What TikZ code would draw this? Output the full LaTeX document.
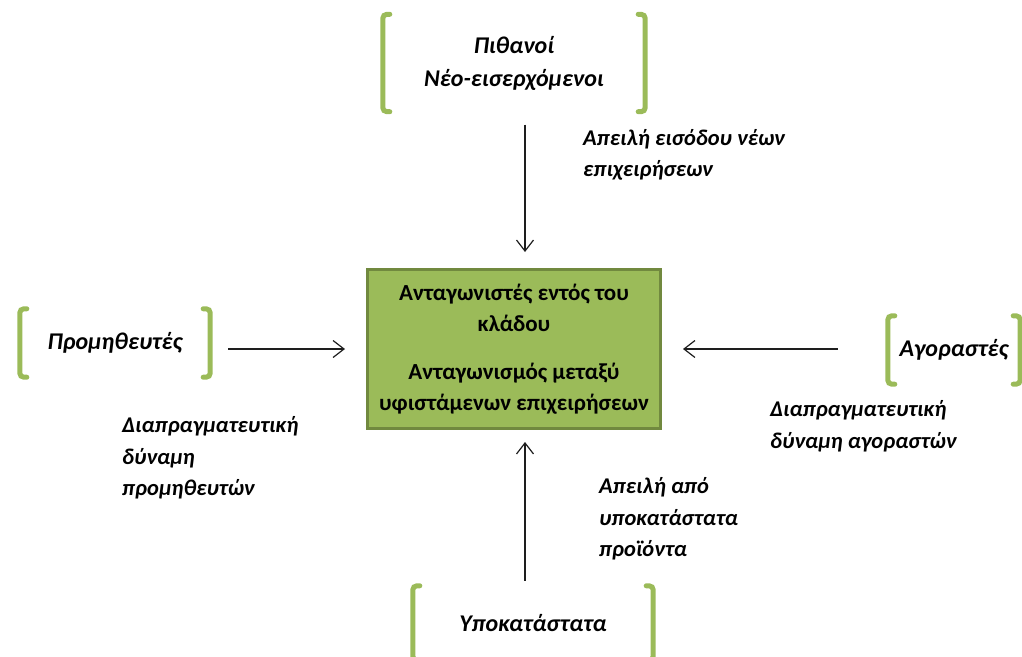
\documentclass[tikz,border=0pt]{standalone}
\usepackage{fontspec}
\setmainfont{Carlito}
\usetikzlibrary{positioning,arrows.meta}
\definecolor{leafgreen}{HTML}{9BBB59}
\definecolor{leafdark}{HTML}{71893F}
\definecolor{inkline}{HTML}{1E1E1E}

\tikzset{
  forcebox/.style={inner sep=0pt, align=center, font=\fontsize{24}{33}\selectfont\bfseries\itshape},
  corebox/.style={draw=leafdark, line width=3pt, fill=leafgreen, inner sep=0pt,
    minimum width=293pt, minimum height=159pt, align=center,
    font=\fontsize{23}{31}\selectfont\bfseries},
  tag/.style={anchor=west, inner sep=0pt, align=left, font=\fontsize{22.5}{31.5}\selectfont\bfseries\itshape},
  bracketline/.style={leafgreen, line width=5pt, line cap=round, rounded corners=4pt},
  flow/.style={-{Straight Barb[length=11pt,width=17pt,line width=1.2pt]}, inkline, line width=1.2pt}
}

\begin{document}
\begin{tikzpicture}[x=1pt,y=-1pt]
		\useasboundingbox (0,0) rectangle (1022,656);
		\clip (0,0) rectangle (1022,656);
		% the five forces
		\node[corebox] (core) at (514,349) {Ανταγωνιστές εντός του\\κλάδου\\[17pt]Ανταγωνισμός μεταξύ\\υφιστάμενων επιχειρήσεων};
		\node[forcebox, minimum width=262pt, minimum height=97pt] (entrants) at (514,63) {Πιθανοί\\Νέο-εισερχόμενοι};
		\node[forcebox, minimum width=190pt, minimum height=68pt] (suppliers) at (115,343) {Προμηθευτές};
		\node[forcebox, minimum width=132pt, minimum height=68pt] (buyers) at (954,350) {Αγοραστές};
		\node[forcebox, minimum width=240pt, minimum height=74pt] (subst) at (533,623) {Υποκατάστατα};
		% brackets
		\foreach \n in {entrants,suppliers,buyers,subst} {
			\draw[bracketline] ([xshift=7pt]\n.north west) -- (\n.north west) -- (\n.south west) -- ([xshift=7pt]\n.south west);
			\draw[bracketline] ([xshift=-7pt]\n.north east) -- (\n.north east) -- (\n.south east) -- ([xshift=-7pt]\n.south east);
		}
		% arrows
		\draw[flow, shorten <=13pt, shorten >=16pt] ([xshift=11pt]entrants.south) -- ([xshift=11pt]core.north);
		\draw[flow, shorten <=18pt, shorten >=21pt] (suppliers.east |- core.west) -- (core.west);
		\draw[flow, shorten <=50pt, shorten >=21pt] (buyers.west |- core.east) -- (core.east);
		\draw[flow, shorten <=5pt, shorten >=12pt] ([xshift=11pt]core.south |- subst.north) -- ([xshift=11pt]core.south);
		% labels
		\node[tag] (tagnew) at (583,155) {Απειλή εισόδου νέων\\επιχειρήσεων};
		\node[tag] (tagsup) at (122,458) {Διαπραγματευτική\\δύναμη\\προμηθευτών};
		\node[tag] (tagbuy) at (770,426) {Διαπραγματευτική\\δύναμη αγοραστών};
		\node[tag] (tagsub) at (599,519) {Απειλή από\\υποκατάστατα\\προϊόντα};
\end{tikzpicture}
\end{document}
